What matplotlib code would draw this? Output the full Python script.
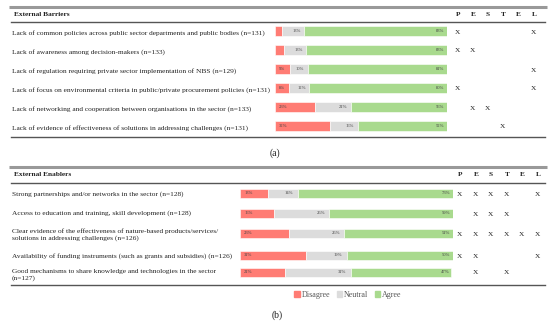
import matplotlib.pyplot as plt
from matplotlib.patches import Patch

# ---- data ----
barriers = [
    'Lack of common policies across public sector departments and public bodies (n=131)',
    'Lack of awareness among decision-makers (n=133)',
    'Lack of regulation requiring private sector implementation of NBS (n=129)',
    'Lack of focus on environmental criteria in public/private procurement policies (n=131)',
    'Lack of networking and cooperation between organisations in the sector (n=133)',
    'Lack of evidence of effectiveness of solutions in addressing challenges (n=131)',
]
bar_disagree = [4, 5, 9, 8, 23, 32]
bar_neutral = [13, 13, 10, 12, 21, 16]
bar_agree = [83, 83, 81, 80, 56, 52]
bar_pestel = ['P....L', 'PE....', '.....L', 'P....L', '.ES...', '...T..']

enablers = [
    'Strong partnerships and/or networks in the sector (n=128)',
    'Access to education and training, skill development (n=128)',
    'Clear evidence of the effectiveness of nature-based products/services/\nsolutions in addressing challenges (n=126)',
    'Availability of funding instruments (such as grants and subsidies) (n=126)',
    'Good mechanisms to share knowledge and technologies in the sector\n(n=127)',
]
en_disagree = [13, 16, 23, 31, 21]
en_neutral = [14, 26, 26, 19, 31]
en_agree = [73, 59, 51, 50, 47]
en_pestel = ['PEST.L', '.EST..', 'PESTEL', 'PE...L', '.E.T..']

pestel_letters = ['P', 'E', 'S', 'T', 'E', 'L']
colors = ['#FF7C74', '#DCDCDC', '#A9DA8E']

W, H = 550, 323
fig = plt.figure(figsize=(5.5, 3.23), dpi=100)
plt.rcParams['font.family'] = ['Liberation Serif', 'DejaVu Serif']

# base axes in pixel coordinates for lines and text
base = fig.add_axes([0, 0, 1, 1])
base.set_xlim(0, W)
base.set_ylim(H, 0)
base.axis('off')

fs = 5.3
txt = '#222222'


def panel(top, head_y, rule_y, bottom, title, labels, label_y, row_y,
          bx0, bx1, px, dis, neu, agr, pestel, bar_h):
    base.plot([9, 547], [top, top], color='#999999', lw=2.2, solid_capstyle='butt')
    base.plot([11, 545], [rule_y, rule_y], color='#555555', lw=1.0)
    base.plot([11, 545], [bottom, bottom], color='#555555', lw=1.0)
    base.text(14, head_y, title, fontsize=fs, fontweight='bold', va='center', color=txt)
    for i, letter in enumerate(pestel_letters):
        base.text(px[i], head_y, letter, fontsize=fs, fontweight='bold',
                  va='center', ha='center', color=txt)
    for lab, y in zip(labels, label_y):
        base.text(12, y, lab, fontsize=fs, va='center', color=txt, linespacing=1.15)
    for code, y in zip(pestel, row_y):
        for i, c in enumerate(code):
            if c != '.':
                base.text(px[i], y + 1, 'X', fontsize=fs, va='center', ha='center', color=txt)

    # bar axes: x in percent, y in pixels
    ax = fig.add_axes([bx0 / W, 1 - bottom / H, (bx1 - bx0) / W, (bottom - rule_y) / H])
    ax.set_xlim(0, 100)
    ax.set_ylim(bottom, rule_y)
    ax.axis('off')
    left = [0] * len(dis)
    for vals, col in zip([dis, neu, agr], colors):
        ax.barh(row_y, vals, left=left, height=bar_h, color=col, edgecolor='white', lw=0.4)
        left = [a + b for a, b in zip(left, vals)]
    for y, d, n, a in zip(row_y, dis, neu, agr):
        if d >= 6:
            ax.text(2, y, f'{d}%', fontsize=3.3, va='center', ha='left', color='#444444')
        ax.text(d + n - 2, y, f'{n}%', fontsize=3.3, va='center', ha='right', color='#444444')
        ax.text(98.5, y, f'{a}%', fontsize=3.3, va='center', ha='right', color='#444444')


panel(7, 15, 22, 137, 'External Barriers', barriers,
      [33, 52, 71, 90, 109, 128], [31, 50, 69, 88, 107, 126],
      275, 447, [458, 473, 488, 503, 518, 534],
      bar_disagree, bar_neutral, bar_agree, bar_pestel, 10)

panel(167, 175, 183, 285, 'External Enablers', enablers,
      [194, 213, 234.5, 256, 275], [193, 213, 233, 255, 272],
      240, 453, [460, 476, 491, 507, 522, 538],
      en_disagree, en_neutral, en_agree, en_pestel, 9)

base.text(275, 153, '(a)', fontsize=7, ha='center', va='center', color=txt)
base.text(277, 315, '(b)', fontsize=7, ha='center', va='center', color=txt)

handles = [Patch(color=c) for c in colors]
fig.legend(handles, ['Disagree', 'Neutral', 'Agree'], loc='center',
           bbox_to_anchor=(348 / W, 1 - 295 / H), ncol=3, frameon=False,
           fontsize=5.8, handlelength=0.7, handleheight=0.7, handletextpad=0.2,
           columnspacing=0.8, labelcolor='#555555')

fig.savefig('out.png', dpi=100)
